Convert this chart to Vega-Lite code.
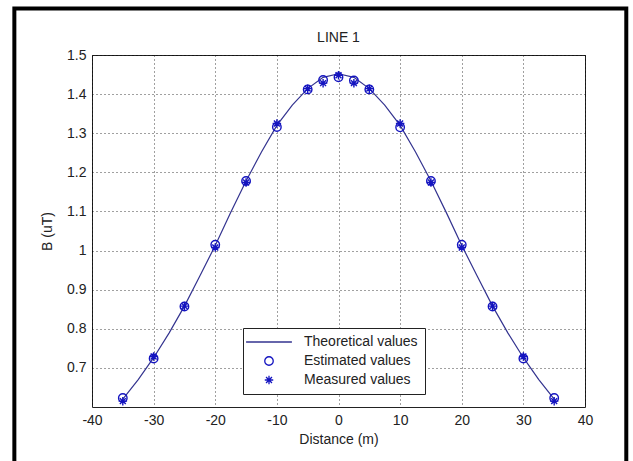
{
  "$schema": "https://vega.github.io/schema/vega-lite/v6.json",
  "width": 493,
  "height": 352,
  "autosize": {"type": "none"},
  "padding": {"left": 92, "top": 55, "right": 48, "bottom": 54},
  "background": "white",
  "config": {
    "font": "Liberation Sans",
    "view": {"stroke": "#222222", "strokeWidth": 1},
    "axis": {
      "labelFont": "Liberation Sans", "labelFontSize": 14, "labelColor": "#222222",
      "titleFont": "Liberation Sans", "titleFontSize": 14, "titleFontWeight": "normal", "titleColor": "#222222",
      "grid": true, "gridColor": "#000000", "gridDash": [1, 3], "gridOpacity": 0.75,
      "ticks": false, "domain": false, "labelFlush": false
    },
    "legend": {
      "orient": "none", "legendX": 151, "legendY": 273,
      "strokeColor": "#222222", "fillColor": "white", "padding": 7,
      "labelFont": "Liberation Sans", "labelFontSize": 14, "labelColor": "#222222",
      "symbolOffset": 12, "labelOffset": 28, "rowPadding": 5, "symbolStrokeWidth": 1.3, "symbolSize": 72,
      "symbolFillColor": "transparent"
    }
  },
  "title": {"text": "LINE 1", "font": "Liberation Sans", "fontSize": 14, "fontWeight": "normal", "color": "#222222", "offset": 7, "dy": 46},
  "data": {"values": [
    {"series": "Theoretical values", "x": -35, "b": 0.620}, {"series": "Theoretical values", "x": -32.5, "b": 0.670},
    {"series": "Theoretical values", "x": -30, "b": 0.726}, {"series": "Theoretical values", "x": -27.5, "b": 0.789},
    {"series": "Theoretical values", "x": -25, "b": 0.858}, {"series": "Theoretical values", "x": -22.5, "b": 0.935},
    {"series": "Theoretical values", "x": -20, "b": 1.013}, {"series": "Theoretical values", "x": -17.5, "b": 1.097},
    {"series": "Theoretical values", "x": -15, "b": 1.178}, {"series": "Theoretical values", "x": -12.5, "b": 1.252},
    {"series": "Theoretical values", "x": -10, "b": 1.320}, {"series": "Theoretical values", "x": -7.5, "b": 1.372},
    {"series": "Theoretical values", "x": -5, "b": 1.414}, {"series": "Theoretical values", "x": -2.5, "b": 1.443},
    {"series": "Theoretical values", "x": 0, "b": 1.452}, {"series": "Theoretical values", "x": 2.5, "b": 1.443},
    {"series": "Theoretical values", "x": 5, "b": 1.414}, {"series": "Theoretical values", "x": 7.5, "b": 1.372},
    {"series": "Theoretical values", "x": 10, "b": 1.320}, {"series": "Theoretical values", "x": 12.5, "b": 1.252},
    {"series": "Theoretical values", "x": 15, "b": 1.178}, {"series": "Theoretical values", "x": 17.5, "b": 1.097},
    {"series": "Theoretical values", "x": 20, "b": 1.013}, {"series": "Theoretical values", "x": 22.5, "b": 0.935},
    {"series": "Theoretical values", "x": 25, "b": 0.858}, {"series": "Theoretical values", "x": 27.5, "b": 0.789},
    {"series": "Theoretical values", "x": 30, "b": 0.726}, {"series": "Theoretical values", "x": 32.5, "b": 0.670},
    {"series": "Theoretical values", "x": 35, "b": 0.620},
    {"series": "Estimated values", "x": -35, "b": 0.623}, {"series": "Estimated values", "x": -30, "b": 0.724},
    {"series": "Estimated values", "x": -25, "b": 0.857}, {"series": "Estimated values", "x": -20, "b": 1.015},
    {"series": "Estimated values", "x": -15, "b": 1.178}, {"series": "Estimated values", "x": -10, "b": 1.316},
    {"series": "Estimated values", "x": -5, "b": 1.412}, {"series": "Estimated values", "x": -2.5, "b": 1.436},
    {"series": "Estimated values", "x": 0, "b": 1.443}, {"series": "Estimated values", "x": 2.5, "b": 1.435},
    {"series": "Estimated values", "x": 5, "b": 1.412}, {"series": "Estimated values", "x": 10, "b": 1.315},
    {"series": "Estimated values", "x": 15, "b": 1.178}, {"series": "Estimated values", "x": 20, "b": 1.015},
    {"series": "Estimated values", "x": 25, "b": 0.857}, {"series": "Estimated values", "x": 30, "b": 0.724},
    {"series": "Estimated values", "x": 35, "b": 0.623},
    {"series": "Measured values", "x": -35, "b": 0.615}, {"series": "Measured values", "x": -30, "b": 0.729},
    {"series": "Measured values", "x": -25, "b": 0.858}, {"series": "Measured values", "x": -20, "b": 1.008},
    {"series": "Measured values", "x": -15, "b": 1.174}, {"series": "Measured values", "x": -10, "b": 1.325},
    {"series": "Measured values", "x": -5, "b": 1.414}, {"series": "Measured values", "x": -2.5, "b": 1.428},
    {"series": "Measured values", "x": 0, "b": 1.448}, {"series": "Measured values", "x": 2.5, "b": 1.428},
    {"series": "Measured values", "x": 5, "b": 1.414}, {"series": "Measured values", "x": 10, "b": 1.325},
    {"series": "Measured values", "x": 15, "b": 1.174}, {"series": "Measured values", "x": 20, "b": 1.008},
    {"series": "Measured values", "x": 25, "b": 0.858}, {"series": "Measured values", "x": 30, "b": 0.729},
    {"series": "Measured values", "x": 35, "b": 0.615}
  ]},
  "layer": [
    {
      "transform": [{"filter": "datum.series === 'Theoretical values'"}],
      "mark": {"type": "line", "strokeWidth": 1.2},
      "encoding": {
        "x": {"field": "x", "type": "quantitative", "scale": {"domain": [-40, 40], "nice": false, "zero": false},
              "axis": {"values": [-40, -30, -20, -10, 0, 10, 20, 30, 40], "labelExpr": "'' + datum.value", "title": "Distance (m)", "labelPadding": 6, "titlePadding": 5}},
        "y": {"field": "b", "type": "quantitative", "scale": {"domain": [0.6, 1.5], "nice": false, "zero": false},
              "axis": {"values": [0.7, 0.8, 0.9, 1, 1.1, 1.2, 1.3, 1.4, 1.5], "labelExpr": "'' + datum.value", "title": "B (uT)", "labelPadding": 6, "titlePadding": 12}},
        "color": {"field": "series", "type": "nominal",
                  "scale": {"domain": ["Theoretical values", "Estimated values", "Measured values"], "range": ["#33338f", "#1414c0", "#1414c0"]},
                  "legend": {"title": null}}
      }
    },
    {
      "transform": [{"filter": "datum.series !== 'Theoretical values'"}],
      "mark": {"type": "point", "filled": false, "strokeWidth": 1.4, "opacity": 1, "size": 72},
      "encoding": {
        "x": {"field": "x", "type": "quantitative"},
        "y": {"field": "b", "type": "quantitative"},
        "color": {"field": "series", "type": "nominal", "legend": {"title": null}},
        "shape": {"field": "series", "type": "nominal",
                  "scale": {"domain": ["Theoretical values", "Estimated values", "Measured values"], "range": ["M-5.4,0L5.4,0", "circle", "M0,-1L0,1M-1,0L1,0M-0.7,-0.7L0.7,0.7M-0.7,0.7L0.7,-0.7"]},
                  "legend": {"title": null}}
      }
    },
    {
      "data": {"values": [{"frame": 1}]},
      "mark": {"type": "rect", "clip": false, "fill": "transparent", "stroke": "black", "strokeWidth": 4},
      "encoding": {
        "x": {"datum": -52.6, "type": "quantitative"},
        "x2": {"datum": 46.7},
        "y": {"datum": 1.619, "type": "quantitative"},
        "y2": {"datum": 0.35}
      }
    }
  ]
}
